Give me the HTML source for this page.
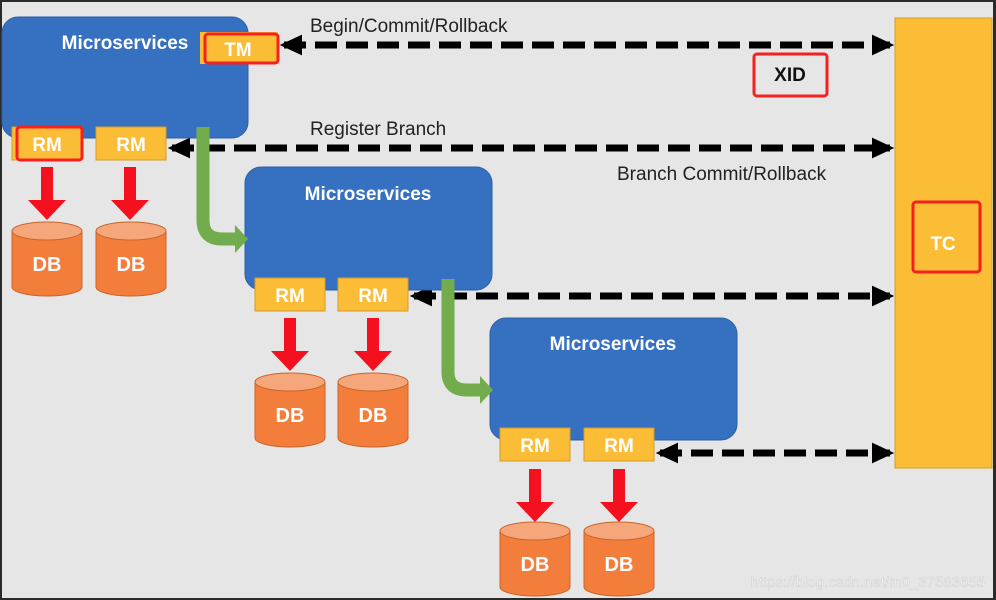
<!DOCTYPE html>
<html><head><meta charset="utf-8"><style>
html,body{margin:0;padding:0;background:#2b2b2b;}
svg{display:block;}
text{font-family:"Liberation Sans","DejaVu Sans",sans-serif;}
</style></head><body>
<svg width="996" height="600" viewBox="0 0 996 600" xmlns="http://www.w3.org/2000/svg">
<defs>
<marker id="ah" markerWidth="3.2" markerHeight="3" refX="2.6" refY="1.5" orient="auto-start-reverse" markerUnits="strokeWidth">
<path d="M0,0 L3.2,1.5 L0,3 z" fill="#000"/>
</marker>
<g id="db">
<path d="M0,9 v56 a35,9 0 0 0 70,0 v-56 z" fill="#f37e3c" stroke="#c9642a" stroke-width="1"/>
<ellipse cx="35" cy="9" rx="35" ry="9" fill="#f5a77b" stroke="#c9642a" stroke-width="1"/>
<text x="35" y="49" text-anchor="middle" font-size="20" font-weight="bold" fill="#fff">DB</text>
</g>
<g id="rm">
<rect x="0" y="0" width="70" height="33" fill="#fbbd35" stroke="#d49a2a" stroke-width="1"/>
<text x="35" y="24" text-anchor="middle" font-size="19" font-weight="bold" fill="#fff">RM</text>
</g>
<g id="ra">
<path d="M-6,0 h12 v33 h13 l-19,20 l-19,-20 h13 z" fill="#f5101f"/>
</g>
</defs>
<rect x="2" y="2" width="991" height="596" fill="#e6e6e6"/>

<g stroke="#000" stroke-width="7" stroke-dasharray="22,9" fill="none">
<line x1="284" y1="45" x2="890" y2="45" marker-start="url(#ah)" marker-end="url(#ah)"/>
<line x1="172" y1="148" x2="890" y2="148" marker-start="url(#ah)" marker-end="url(#ah)"/>
<line x1="414" y1="296" x2="890" y2="296" marker-start="url(#ah)" marker-end="url(#ah)"/>
<line x1="660" y1="453" x2="890" y2="453" marker-start="url(#ah)" marker-end="url(#ah)"/>
</g>
<text x="310" y="32" font-size="19" fill="#222">Begin/Commit/Rollback</text>
<text x="310" y="135" font-size="19" fill="#222">Register Branch</text>
<text x="617" y="180" font-size="19" fill="#222">Branch Commit/Rollback</text>
<rect x="754" y="54" width="73" height="42" rx="3" fill="none" stroke="#f5201f" stroke-width="3"/>
<text x="790" y="81" text-anchor="middle" font-size="19" font-weight="bold" fill="#111">XID</text>

<rect x="895" y="18" width="97" height="450" fill="#fbbd35" stroke="#d49a2a" stroke-width="1"/>
<rect x="913" y="202" width="67" height="70" rx="3" fill="none" stroke="#f5201f" stroke-width="3"/>
<text x="943" y="250" text-anchor="middle" font-size="19" font-weight="bold" fill="#fff">TC</text>

<rect x="2" y="17" width="246" height="121" rx="16" fill="#3670c0" stroke="#2e5fa5" stroke-width="1"/>
<text x="125" y="49" text-anchor="middle" font-size="19" font-weight="bold" fill="#fff">Microservices</text>
<rect x="200" y="32" width="78" height="32" fill="#fbbd35"/>
<rect x="205" y="34" width="73" height="29" rx="3" fill="none" stroke="#f5201f" stroke-width="3"/>
<text x="238" y="56" text-anchor="middle" font-size="19" font-weight="bold" fill="#fff">TM</text>
<use href="#rm" x="12" y="127"/>
<rect x="17" y="127" width="65" height="33" rx="3" fill="none" stroke="#f5201f" stroke-width="3"/>
<use href="#rm" x="96" y="127"/>
<use href="#ra" x="47" y="167"/>
<use href="#ra" x="130" y="167"/>
<use href="#db" x="12" y="222"/>
<use href="#db" x="96" y="222"/>

<rect x="245" y="167" width="247" height="123" rx="16" fill="#3670c0" stroke="#2e5fa5" stroke-width="1"/>
<text x="368" y="200" text-anchor="middle" font-size="19" font-weight="bold" fill="#fff">Microservices</text>
<use href="#rm" x="255" y="278"/>
<use href="#rm" x="338" y="278"/>
<use href="#ra" x="290" y="318"/>
<use href="#ra" x="373" y="318"/>
<use href="#db" x="255" y="373"/>
<use href="#db" x="338" y="373"/>

<rect x="490" y="318" width="247" height="122" rx="16" fill="#3670c0" stroke="#2e5fa5" stroke-width="1"/>
<text x="613" y="350" text-anchor="middle" font-size="19" font-weight="bold" fill="#fff">Microservices</text>
<use href="#rm" x="500" y="428"/>
<use href="#rm" x="584" y="428"/>
<use href="#ra" x="535" y="469"/>
<use href="#ra" x="619" y="469"/>
<use href="#db" x="500" y="522"/>
<use href="#db" x="584" y="522"/>

<g fill="none" stroke="#72ac4d" stroke-width="13">
<path d="M203,127 V220 Q203,239 222,239 H236"/>
<path d="M448,279 V372 Q448,390 467,390 H481"/>
</g>
<path d="M235,225 L248,239 L235,253 z" fill="#72ac4d"/>
<path d="M480,376 L493,390 L480,404 z" fill="#72ac4d"/>

<text x="985" y="587" text-anchor="end" font-size="15" fill="#f4f4f4" stroke="#cfcfcf" stroke-width="0.5">https://blog.csdn.net/m0_37583655</text>
</svg>
</body></html>
